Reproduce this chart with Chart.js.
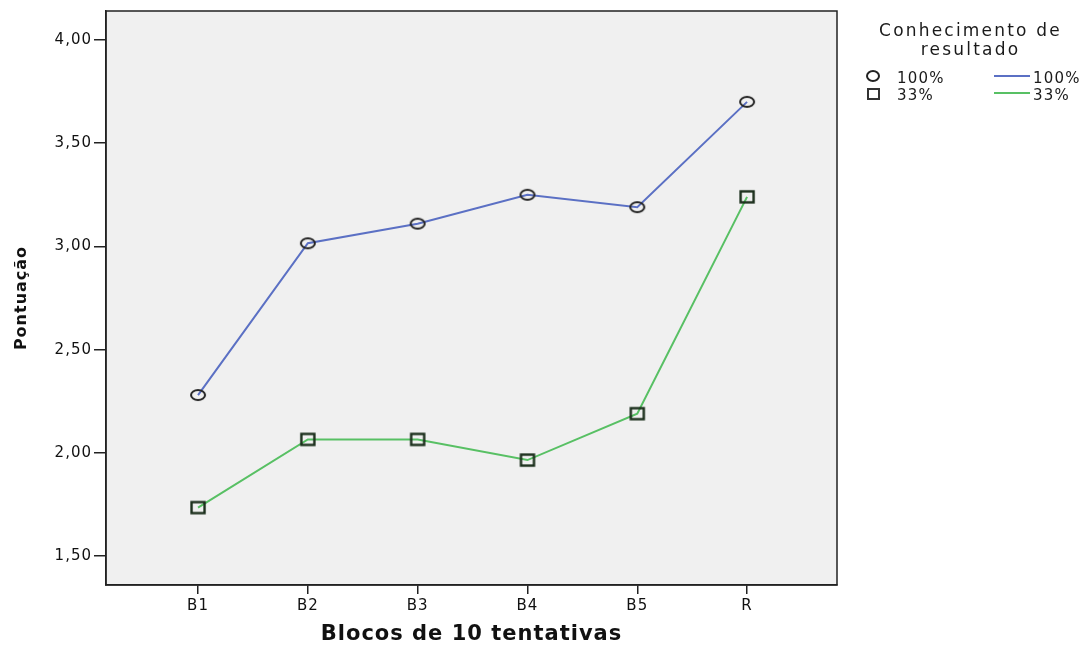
<!DOCTYPE html>
<html><head><meta charset="utf-8">
<script src="https://cdn.jsdelivr.net/npm/chart.js@4"></script>
<style>
html,body{margin:0;padding:0;background:#fff;}
#wrap{position:relative;width:1090px;height:647px;}
canvas{position:absolute;left:0;top:0;}
.lg{position:absolute;font-family:"DejaVu Sans",sans-serif;color:#1a1a1a;font-size:15px;line-height:16px;letter-spacing:1.2px;white-space:nowrap;}
</style></head>
<body>
<div id="wrap">
<canvas id="c" width="1090" height="647"></canvas>
<div class="lg" style="left:858px;top:21px;width:225px;text-align:center;font-size:17px;line-height:19px;letter-spacing:2.2px;">Conhecimento de<br>resultado</div>
<div class="lg" style="left:866px;top:70px;width:14px;height:12px;border:2px solid #222;border-radius:50%;box-sizing:border-box;"></div>
<div class="lg" style="left:897px;top:70px;">100%</div>
<div class="lg" style="left:867px;top:88px;width:13px;height:12px;border:2px solid #333;box-sizing:border-box;"></div>
<div class="lg" style="left:897px;top:87px;">33%</div>
<div class="lg" style="left:994px;top:75px;width:36px;height:0;border-top:2px solid #5b70c4;"></div>
<div class="lg" style="left:1033px;top:70px;">100%</div>
<div class="lg" style="left:994px;top:92px;width:36px;height:0;border-top:2px solid #58c064;"></div>
<div class="lg" style="left:1033px;top:87px;">33%</div>
</div>
<script>
const categories = ['B1','B2','B3','B4','B5','R'];
const series100 = [2.28, 3.015, 3.11, 3.25, 3.19, 3.70];
const series33 = [1.735, 2.065, 2.065, 1.965, 2.19, 3.24];
const yTicks = [1.5, 2.0, 2.5, 3.0, 3.5, 4.0];

const toXY = arr => arr.map((v,i)=>({x:i,y:v}));

function markerCanvas(kind){
  const c = document.createElement('canvas');
  c.width = 18; c.height = 16;
  const g = c.getContext('2d');
  if (kind === 'ellipse') {
    g.strokeStyle = '#222'; g.lineWidth = 2;
    g.beginPath(); g.ellipse(9, 8, 7, 5, 0, 0, Math.PI*2); g.stroke();
  } else {
    g.strokeStyle = '#1a2e1b'; g.lineWidth = 2.4;
    g.strokeRect(2.5, 2.5, 13, 11);
  }
  return c;
}
const circleMark = markerCanvas('ellipse');
const squareMark = markerCanvas('rect');

const frame = {
  id:'frame',
  beforeUpdate(chart){ chart.ctx.letterSpacing = '1px'; },
  beforeDraw(chart){
    const {ctx, chartArea:a} = chart;
    ctx.letterSpacing = '1px';
    ctx.save();
    ctx.fillStyle = '#f0f0f0';
    ctx.fillRect(a.left, a.top, a.right-a.left, a.bottom-a.top);
    ctx.restore();
  },
  afterDraw(chart){
    const {ctx, chartArea:a} = chart;
    ctx.save();
    ctx.strokeStyle = '#222';
    ctx.lineWidth = 1.5;
    ctx.strokeRect(a.left, a.top, a.right-a.left, a.bottom-a.top);
    ctx.restore();
  }
};

const FONT = '"DejaVu Sans", sans-serif';

new Chart(document.getElementById('c'), {
  type:'line',
  data:{
    datasets:[
      {label:'100%', data:toXY(series100), borderColor:'#5b70c4', borderWidth:2,
       pointStyle:circleMark, pointRadius:6, tension:0},
      {label:'33%', data:toXY(series33), borderColor:'#58c064', borderWidth:2,
       pointStyle:squareMark, pointRadius:6, tension:0}
    ]
  },
  options:{
    responsive:false, animation:false,
    layout:{padding:{left:0, top:11, right:253, bottom:0}},
    plugins:{legend:{display:false}, tooltip:{enabled:false}},
    scales:{
      x:{type:'linear', min:-0.838, max:5.819,
        afterBuildTicks(s){ s.ticks = categories.map((c,i)=>({value:i})); },
        afterFit(s){ s.height = 62; },
        ticks:{callback:(v)=>categories[v], color:'#111', font:{family:FONT, size:15}, padding:3, maxRotation:0, autoSkip:false},
        grid:{drawOnChartArea:false, tickLength:9, color:'#222', lineWidth:1.5},
        border:{display:true, color:'#222', width:1.5},
        title:{display:true, text:'Blocos de 10 tentativas', color:'#111', font:{family:FONT, size:21, weight:'bold'}, padding:{top:0,bottom:0}}
      },
      y:{type:'linear', min:1.36, max:4.14,
        afterBuildTicks(s){ s.ticks = yTicks.map(v=>({value:v})); },
        afterFit(s){ s.width = 106; },
        ticks:{callback:(v)=>v.toFixed(2).replace('.',','), color:'#111', font:{family:FONT, size:15}, padding:2},
        grid:{drawOnChartArea:false, tickLength:12, color:'#222', lineWidth:1.5},
        border:{display:true, color:'#222', width:1.5},
        title:{display:true, text:'Pontuação', color:'#111', font:{family:FONT, size:16, weight:'bold'}, padding:{top:12,bottom:4}}
      }
    }
  },
  plugins:[frame]
});
</script>
</body></html>
